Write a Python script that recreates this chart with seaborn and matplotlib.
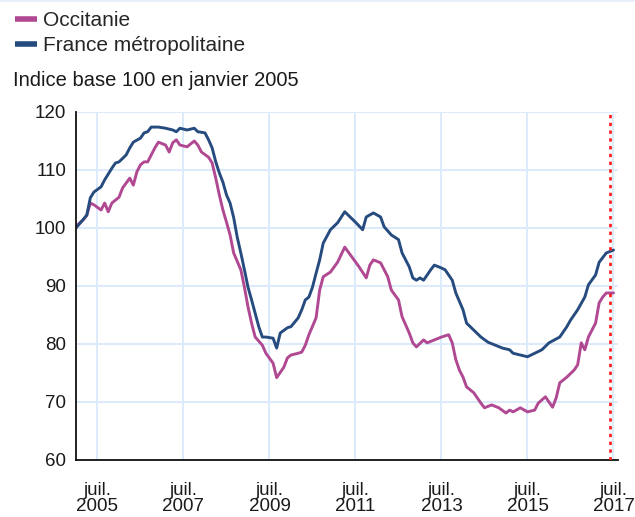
import numpy as np
import pandas as pd
import matplotlib
matplotlib.use("Agg")
import matplotlib.pyplot as plt
import seaborn as sns
from matplotlib.lines import Line2D

# ---------------- data ----------------
series_names = ["Occitanie", "France métropolitaine"]
series_colors = ["#B04892", "#264B7E"]

# months elapsed since January 2005
occ_months = [0, 2, 3, 4, 5, 7, 8, 9, 10, 12, 13, 15, 16, 17, 18, 19, 20, 21, 22, 23,
              25, 26, 27, 28, 29, 31, 33, 34, 35, 37, 38, 39, 40, 41, 42, 43, 44, 46, 47, 48,
              49, 50, 52, 53, 55, 56, 58, 59, 60, 62, 63, 64, 65, 67, 68, 69, 71, 73, 75, 77,
              79, 81, 82, 83, 85, 87, 88, 90, 91, 93, 94, 95, 97, 98, 100, 102, 104, 105, 106, 107,
              108, 109, 111, 113, 114, 116, 118, 120, 121, 122, 124, 126, 128, 129, 131, 133, 134, 135, 137, 139,
              140, 141, 142, 143, 145, 146, 147, 148, 150]
occ_values = [100.3, 101.4, 102.2, 104.3, 104.0, 103.1, 104.3, 102.8, 104.3, 105.3, 106.9, 108.6, 107.4, 109.7, 110.9, 111.4, 111.4, 112.6, 113.8, 114.8,
              114.3, 113.1, 114.7, 115.2, 114.3, 114.0, 115.0, 114.3, 113.1, 112.2, 111.2, 108.6, 105.7, 103.1, 101.0, 98.8, 95.7, 92.8, 89.8, 86.4,
              83.6, 81.2, 79.8, 78.4, 76.7, 74.2, 76.0, 77.6, 78.1, 78.4, 78.6, 79.8, 81.6, 84.5, 89.3, 91.6, 92.4, 94.1, 96.7, 95.0,
              93.3, 91.4, 93.6, 94.5, 94.0, 91.6, 89.3, 87.6, 84.7, 81.9, 80.2, 79.5, 80.7, 80.2, 80.7, 81.2, 81.6, 80.2, 77.3, 75.5,
              74.3, 72.6, 71.6, 69.8, 69.0, 69.5, 69.0, 68.1, 68.6, 68.3, 69.0, 68.3, 68.6, 69.8, 70.9, 69.1, 70.7, 73.3, 74.3, 75.5,
              76.4, 80.2, 79.0, 81.2, 83.6, 87.1, 88.1, 88.8, 88.8]

fr_months = [0, 3, 4, 5, 7, 8, 10, 11, 12, 14, 15, 16, 18, 19, 20, 21, 23, 25, 27, 28,
             29, 31, 33, 34, 36, 37, 38, 39, 40, 41, 42, 43, 44, 45, 46, 47, 48, 49, 50, 51,
             52, 53, 55, 56, 57, 59, 60, 62, 63, 64, 65, 66, 67, 68, 69, 71, 73, 75, 76, 78,
             80, 81, 83, 85, 86, 88, 90, 91, 93, 94, 95, 96, 97, 99, 100, 102, 103, 105, 106, 108,
             109, 111, 113, 115, 117, 119, 121, 122, 124, 126, 128, 130, 132, 135, 137, 138, 140, 142, 143, 145,
             146, 148, 150]
fr_values = [100.0, 102.2, 105.2, 106.2, 107.1, 108.3, 110.3, 111.2, 111.4, 112.6, 113.8, 114.8, 115.5, 116.4, 116.6, 117.4, 117.4, 117.2, 116.9, 116.6,
             117.2, 116.9, 117.2, 116.6, 116.4, 115.2, 113.8, 111.4, 109.5, 107.9, 105.7, 104.3, 101.8, 98.4, 95.7, 92.8, 89.8, 87.6, 85.3, 83.0,
             81.2, 81.2, 81.0, 79.3, 81.9, 82.8, 83.0, 84.5, 85.9, 87.6, 88.1, 89.8, 92.2, 94.5, 97.4, 99.7, 100.9, 102.8, 102.2, 101.0,
             99.7, 101.9, 102.6, 101.9, 100.2, 98.8, 98.0, 95.7, 93.3, 91.4, 91.0, 91.4, 91.0, 92.8, 93.6, 93.1, 92.8, 91.0, 88.8, 85.9,
             83.6, 82.4, 81.2, 80.3, 79.8, 79.3, 79.0, 78.4, 78.1, 77.8, 78.4, 79.0, 80.2, 81.2, 83.0, 84.1, 85.9, 88.1, 90.2, 91.9,
             94.1, 95.7, 96.2]

tick_years = [2005, 2007, 2009, 2011, 2013, 2015, 2017]
tick_labels = ["juil.\n2005", "juil.\n2007", "juil.\n2009", "juil.\n2011",
               "juil.\n2013", "juil.\n2015", "juil.\n2017"]
y_ticks = [60, 70, 80, 90, 100, 110, 120]
marker_month = 149          # vertical dotted marker (last available month)
subtitle = "Indice base 100 en janvier 2005"

# ---------------- frame ----------------
df = pd.concat([
    pd.DataFrame({"mois": occ_months, "valeur": occ_values, "serie": series_names[0]}),
    pd.DataFrame({"mois": fr_months, "valeur": fr_values, "serie": series_names[1]}),
], ignore_index=True)
df["date"] = 2005 + df["mois"] / 12.0

sns.set_style("white")
plt.rcParams["font.family"] = ["Liberation Sans", "DejaVu Sans"]

W, H = 635, 517
fig = plt.figure(figsize=(W / 100, H / 100), dpi=100)
ax = fig.add_axes([76 / W, 1 - 460 / H, (618 - 76) / W, (460 - 112) / H])

palette = dict(zip(series_names, series_colors))
sns.lineplot(data=df, x="date", y="valeur", hue="serie", palette=palette,
             linewidth=2.1, ax=ax, legend=False, zorder=3)

ax.set_xlim(2005.0, 2017.605)
ax.set_ylim(60, 120)
ax.set_xticks([y + 0.5 for y in tick_years])
ax.set_xticklabels(tick_labels, linespacing=0.9)
ax.set_yticks(y_ticks)
ax.set_xlabel("")
ax.set_ylabel("")
ax.tick_params(axis="x", length=0, pad=16, labelsize=13.5, colors="#1a1a1a")
ax.tick_params(axis="y", length=0, pad=7, labelsize=13.5, colors="#1a1a1a")

ax.grid(True, color="#DCEBFB", linewidth=1.4, zorder=0)
ax.set_axisbelow(True)
for s in ["top", "right"]:
    ax.spines[s].set_visible(False)
for s in ["left", "bottom"]:
    ax.spines[s].set_color("#111111")
    ax.spines[s].set_linewidth(1.3)
    ax.spines[s].set_zorder(4)

ax.axvline(2005 + marker_month / 12.0, color="#FF2020", linestyle=(0, (1.2, 1.6)),
           linewidth=2.0, zorder=5)

# legend
handles = [Line2D([0], [0], color=c, linewidth=4.0, solid_capstyle="butt") for c in series_colors]
fig.legend(handles, series_names, loc="upper left", bbox_to_anchor=(15 / W, 1 - 11 / H),
           frameon=False, fontsize=15, handlelength=1.05, handletextpad=0.3,
           labelspacing=0.28, borderaxespad=0, borderpad=0)

fig.text(13 / W, 1 - 80 / H, subtitle, fontsize=14.5, va="center", ha="left", color="#1a1a1a")

# thin light border at the top of the figure
fig.add_artist(Line2D([0, 1], [1 - 1 / H, 1 - 1 / H], color="#E8F1FB", linewidth=1.5,
                      transform=fig.transFigure))

fig.savefig("out.png", dpi=100, facecolor="white")
